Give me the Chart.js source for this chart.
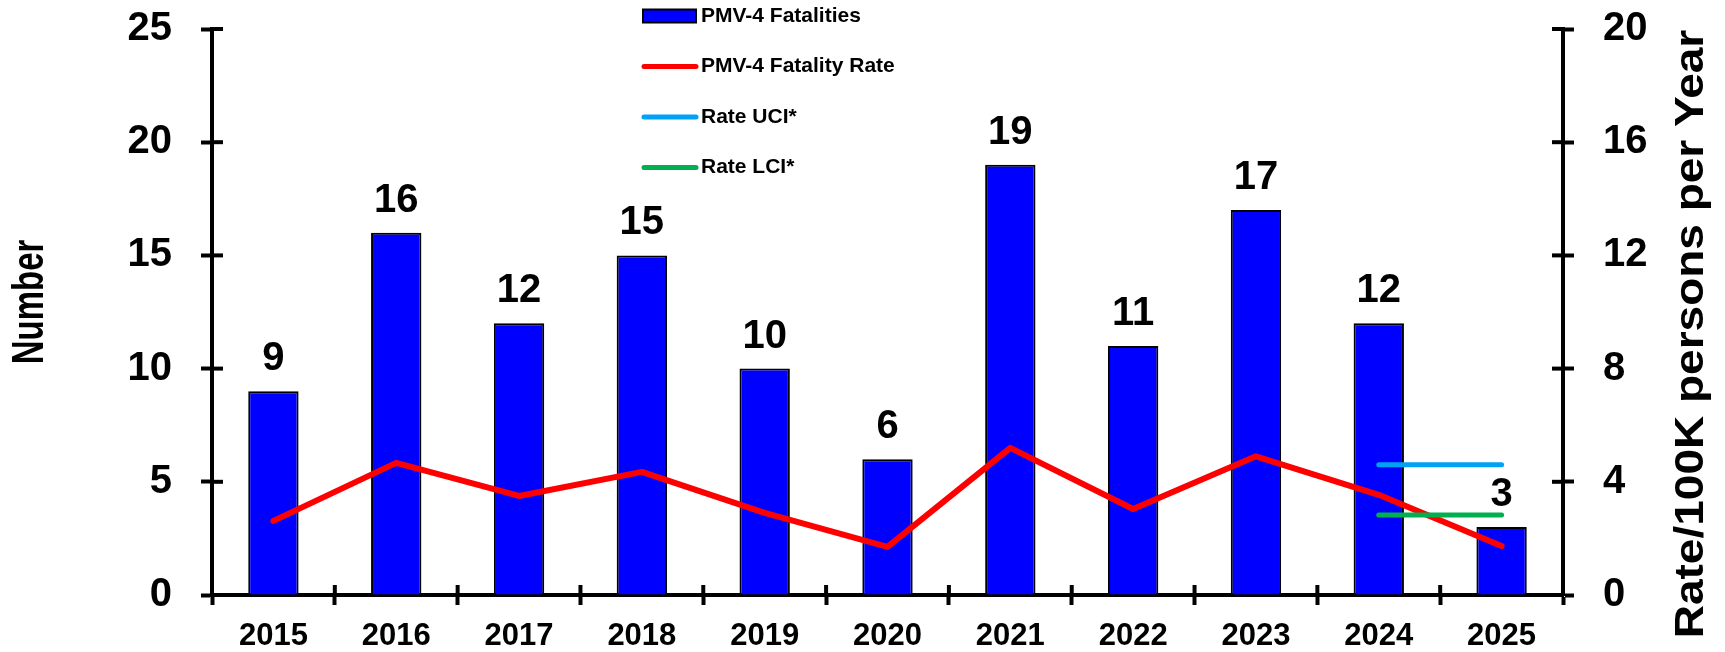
<!DOCTYPE html>
<html>
<head>
<meta charset="utf-8">
<script src="https://cdn.jsdelivr.net/npm/chart.js@4.4.1/dist/chart.umd.min.js"></script>
<style>
  html, body { margin: 0; padding: 0; background: #ffffff; }
  #wrap { width: 1725px; height: 652px; position: relative; }
</style>
</head>
<body>
<div id="wrap"><canvas id="c" width="1725" height="652"></canvas></div>
<script>
const years = ['2015','2016','2017','2018','2019','2020','2021','2022','2023','2024','2025'];
const fatalities = [9, 16, 12, 15, 10, 6, 19, 11, 17, 12, 3];
const fatalityRate = [2.62, 4.67, 3.50, 4.35, 2.90, 1.70, 5.20, 3.04, 4.90, 3.54, 1.73];
const rateUCI = [null, null, null, null, null, null, null, null, null, 4.60, 4.60];
const rateLCI = [null, null, null, null, null, null, null, null, null, 2.83, 2.83];
const leftTicks = [0, 5, 10, 15, 20, 25];
const rightTicks = [0, 4, 8, 12, 16, 20];
const leftTitle = 'Number';
const rightTitle = 'Rate/100K persons per Year';

const FONT = "'Liberation Sans', Arial, sans-serif";

const overlay = {
  id: 'overlay',
  afterDatasetsDraw(chart) {
    const ctx = chart.ctx;
    const meta = chart.getDatasetMeta(0);
    ctx.save();
    ctx.fillStyle = '#000';
    ctx.font = 'bold 40px ' + FONT;
    ctx.textAlign = 'center';
    ctx.textBaseline = 'alphabetic';
    meta.data.forEach((bar, i) => {
      ctx.fillText(String(fatalities[i]), bar.x, bar.y - 21);
    });
    ctx.restore();
  },
  afterDraw(chart) {
    const ctx = chart.ctx;
    const ca = chart.chartArea;
    const x = chart.scales.x, y = chart.scales.y, y1 = chart.scales.y1;
    ctx.save();
    ctx.strokeStyle = '#000';
    ctx.lineWidth = 4;
    // inner half of tick marks (crossing ticks)
    y.ticks.forEach((t, i) => {
      const py = y.getPixelForTick(i);
      ctx.beginPath(); ctx.moveTo(ca.left, py); ctx.lineTo(ca.left + 11, py); ctx.stroke();
    });
    y1.ticks.forEach((t, i) => {
      const py = y1.getPixelForTick(i);
      ctx.beginPath(); ctx.moveTo(ca.right, py); ctx.lineTo(ca.right - 11, py); ctx.stroke();
    });
    for (let i = 0; i <= years.length; i++) {
      let px;
      if (i === 0) px = ca.left;
      else if (i === years.length) px = ca.right;
      else px = (x.getPixelForValue(i - 1) + x.getPixelForValue(i)) / 2;
      ctx.beginPath(); ctx.moveTo(px, ca.bottom); ctx.lineTo(px, ca.bottom - 10); ctx.stroke();
    }
    // axis titles
    ctx.fillStyle = '#000';
    ctx.textAlign = 'center';
    ctx.textBaseline = 'middle';
    ctx.save();
    ctx.font = 'bold 44px ' + FONT;
    ctx.translate(31, 302);
    ctx.rotate(-Math.PI / 2);
    ctx.scale(0.75, 1);
    ctx.fillText(leftTitle, 0, 0);
    ctx.restore();
    ctx.save();
    ctx.font = 'bold 40px ' + FONT;
    ctx.translate(1692, 334);
    ctx.rotate(-Math.PI / 2);
    ctx.scale(1.15, 1);
    ctx.fillText(rightTitle, 0, 0);
    ctx.restore();
    // legend
    ctx.font = 'bold 21px ' + FONT;
    ctx.textAlign = 'left';
    ctx.textBaseline = 'middle';
    chart.data.datasets.forEach((ds, i) => {
      const cy = 16 + i * 50.5;
      if (ds.type === 'bar') {
        ctx.fillStyle = ds.backgroundColor;
        ctx.fillRect(643, cy - 6.5, 53, 13);
        ctx.lineWidth = 2;
        ctx.strokeStyle = '#000';
        ctx.strokeRect(643, cy - 6.5, 53, 13);
      } else {
        ctx.strokeStyle = ds.borderColor;
        ctx.lineWidth = 5;
        ctx.lineCap = 'round';
        ctx.beginPath(); ctx.moveTo(644, cy); ctx.lineTo(696, cy); ctx.stroke();
      }
      ctx.fillStyle = '#000';
      ctx.fillText(ds.label, 701, cy);
    });
    ctx.restore();
  }
};

new Chart(document.getElementById('c'), {
  data: {
    labels: years,
    datasets: [
      { type: 'bar', label: 'PMV-4 Fatalities', data: fatalities, yAxisID: 'y',
        backgroundColor: '#0000FF', borderColor: '#000000', borderWidth: 2,
        barPercentage: 0.41, categoryPercentage: 1.0, order: 10 },
      { type: 'line', label: 'PMV-4 Fatality Rate', data: fatalityRate, yAxisID: 'y1',
        borderColor: '#FF0000', borderWidth: 6, pointRadius: 0, tension: 0,
        borderCapStyle: 'round', borderJoinStyle: 'round', order: 2 },
      { type: 'line', label: 'Rate UCI*', data: rateUCI, yAxisID: 'y1',
        borderColor: '#00A2F5', borderWidth: 5, pointRadius: 0,
        borderCapStyle: 'round', order: 1 },
      { type: 'line', label: 'Rate LCI*', data: rateLCI, yAxisID: 'y1',
        borderColor: '#00B050', borderWidth: 5, pointRadius: 0,
        borderCapStyle: 'round', order: 0 }
    ]
  },
  options: {
    responsive: false,
    animation: false,
    events: [],
    layout: { padding: { top: 29, left: 0, right: 0, bottom: 0 } },
    plugins: { legend: { display: false }, tooltip: { enabled: false } },
    scales: {
      x: {
        type: 'category',
        offset: true,
        afterFit: s => { s.height = 57; s.paddingLeft = 0; s.paddingRight = 0; },
        grid: { display: true, drawOnChartArea: false, offset: true, tickLength: 10, tickWidth: 4, color: '#000' },
        border: { display: true, color: '#000', width: 4 },
        ticks: { color: '#000', font: { family: FONT, size: 31, weight: 'bold' }, padding: 13, maxRotation: 0 }
      },
      y: {
        position: 'left',
        min: 0, max: 25,
        afterFit: s => { s.width = 212; s.paddingTop = 0; s.paddingBottom = 0; },
        afterBuildTicks: s => { s.ticks = leftTicks.map(v => ({ value: v })); },
        grid: { display: true, drawOnChartArea: false, tickLength: 11, tickWidth: 4, color: '#000' },
        border: { display: true, color: '#000', width: 4 },
        ticks: { color: '#000', font: { family: FONT, size: 40, weight: 'bold' }, padding: 29 }
      },
      y1: {
        position: 'right',
        min: 0, max: 20,
        afterFit: s => { s.width = 162; s.paddingTop = 0; s.paddingBottom = 0; },
        afterBuildTicks: s => { s.ticks = rightTicks.map(v => ({ value: v })); },
        grid: { display: true, drawOnChartArea: false, tickLength: 11, tickWidth: 4, color: '#000' },
        border: { display: true, color: '#000', width: 4 },
        ticks: { color: '#000', font: { family: FONT, size: 40, weight: 'bold' }, padding: 29 }
      }
    }
  },
  plugins: [overlay]
});
</script>
</body>
</html>
